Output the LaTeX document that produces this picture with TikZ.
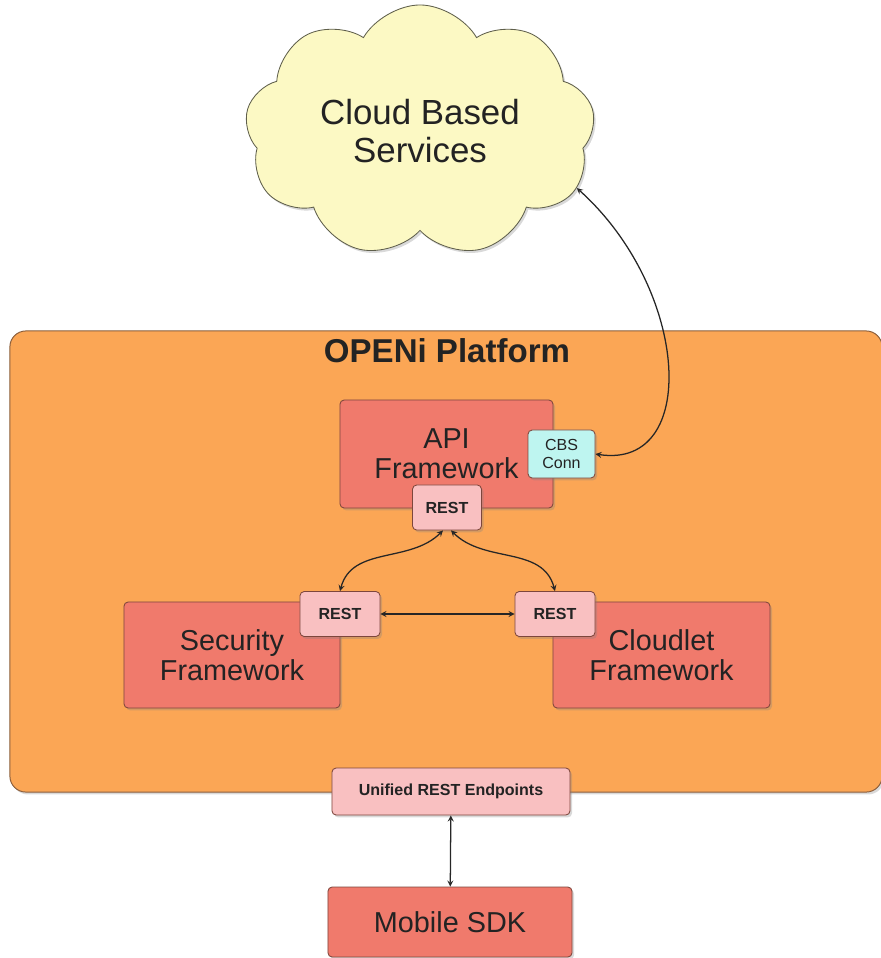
\documentclass[tikz,border=0pt]{standalone}
\usepackage{fontspec}
\setmainfont{Liberation Sans}
\usetikzlibrary{shapes.symbols,shadows}

\definecolor{platformfill}{RGB}{251,166,85}
\definecolor{platformline}{RGB}{140,95,60}
\definecolor{boxfill}{RGB}{240,122,108}
\definecolor{boxline}{RGB}{125,70,60}
\definecolor{restfill}{RGB}{249,192,193}
\definecolor{cbsfill}{RGB}{190,245,240}
\definecolor{cloudfill}{RGB}{252,249,196}
\definecolor{cloudline}{RGB}{95,95,75}
\definecolor{labeltext}{RGB}{35,35,35}

\begin{document}
\begin{tikzpicture}[x=0.025cm, y=-0.025cm, >=stealth,
    shade/.style={drop shadow={opacity=0.3, shadow xshift=0.05cm, shadow yshift=-0.06cm}},
    bigbox/.style={draw=boxline, fill=boxfill, line width=0.6pt, rounded corners=3pt, shade,
        text=labeltext, align=center, inner sep=0pt,
        font=\fontsize{20.5}{21.3}\selectfont},
    smallbox/.style={draw=boxline, line width=0.6pt, rounded corners=3pt, shade,
        text=labeltext, align=center, inner sep=0pt},
    restbox/.style={smallbox, fill=restfill, font=\fontsize{11.4}{12}\selectfont\bfseries},
    link/.style={<->, line width=0.9pt, black!85}]

\useasboundingbox (0,0) rectangle (880,958);

% cloud at the top
\node[cloud, cloud puffs=9, cloud puff arc=120, cloud ignores aspect,
      draw=cloudline, fill=cloudfill, line width=0.6pt, shade,
      minimum width=8.75cm, minimum height=6.3cm, align=center, text=labeltext,
      font=\fontsize{24.8}{27}\selectfont] (cloud) at (420,131) {Cloud Based\\Services};

% the platform
\node[draw=platformline, fill=platformfill, line width=0.7pt, rounded corners=0.4cm, shade,
      minimum width=21.8cm, minimum height=11.525cm] (platform) at (446,561.5) {};
\node[text=labeltext, font=\fontsize{23.5}{24}\selectfont\bfseries] (title) at (447,351) {OPENi Platform};

\node[bigbox, minimum width=5.325cm, minimum height=2.7cm] (api) at (446.5,454) {API\\Framework};
\node[bigbox, minimum width=5.4cm, minimum height=2.65cm] (security) at (232,655) {Security\\Framework};
\node[bigbox, minimum width=5.425cm, minimum height=2.65cm] (cloudlet) at (661.5,655) {Cloudlet\\Framework};

\node[smallbox, fill=cbsfill, minimum width=1.675cm, minimum height=1.2cm,
      font=\fontsize{11.4}{13}\selectfont] (cbs) at (561.5,454) {CBS\\Conn};
\node[restbox, minimum width=1.725cm, minimum height=1.125cm] (restapi) at (447,507.5) {REST};
\node[restbox, minimum width=2cm, minimum height=1.125cm] (restsec) at (340,614) {REST};
\node[restbox, minimum width=2cm, minimum height=1.125cm] (restcl) at (555,614) {REST};

\node[restbox, minimum width=5.95cm, minimum height=1.175cm] (unified) at (451,791.5) {Unified REST Endpoints};
\node[bigbox, minimum width=6.1cm, minimum height=1.75cm] (mobile) at (450,922) {Mobile SDK};

% connectors
\draw[link] (cloud.-20) .. controls (690,290) and (700,470) .. (cbs.east);
\draw[link] (restapi.-100) to[out=225, in=75] (restsec.north);
\draw[link] (restapi.-80) to[out=-45, in=105] (restcl.north);
\draw[link] (restsec) -- (restcl);
\draw[link] (unified) -- (mobile);
\end{tikzpicture}
\end{document}
